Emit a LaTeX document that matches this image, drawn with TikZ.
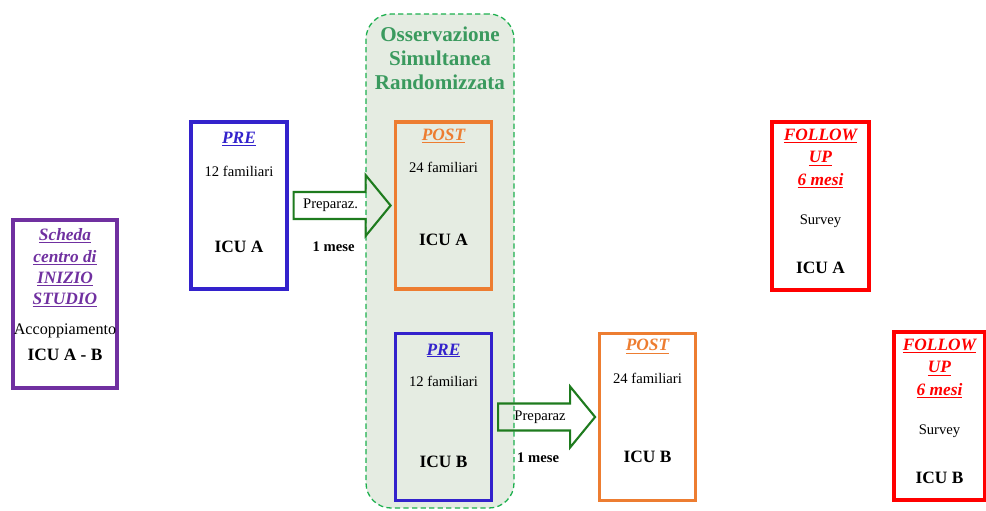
\documentclass[tikz,border=0pt]{standalone}
\usepackage{fontspec}
\setmainfont{Liberation Serif}
\usetikzlibrary{positioning}

\definecolor{schedaviola}{HTML}{7030A0}
\definecolor{preblu}{HTML}{3322CC}
\definecolor{postarancio}{HTML}{ED7D31}
\definecolor{furosso}{HTML}{FF0000}
\definecolor{frecciaverde}{HTML}{1E7B1E}
\definecolor{titoloverde}{HTML}{3A9A5E}
\definecolor{fondoverde}{HTML}{E5ECE2}
\definecolor{bordoverde}{HTML}{1DB04E}

\begin{document}
\begin{tikzpicture}
  [
    x=0.3mm, y=-0.3mm,
    box/.style     = {draw, line width=2.7pt, inner sep=0pt,
                      minimum width=96*0.3mm, minimum height=167*0.3mm},
    regione/.style = {draw=bordoverde, fill=fondoverde, line width=1.1pt,
                      dash pattern=on 4.5pt off 2.8pt, rounded corners=7.5mm,
                      minimum width=148*0.3mm, minimum height=494*0.3mm},
    head/.style    = {font=\fontsize{14.8}{19}\selectfont\bfseries\itshape, align=center},
    small/.style   = {font=\fontsize{12.5}{15}\selectfont},
    icu/.style     = {font=\fontsize{14.8}{17}\selectfont\bfseries},
    prep/.style    = {draw=frecciaverde, line width=1.8pt, line join=miter},
  ]

\useasboundingbox (0,0) rectangle (986,510);

%Green region of the simultaneous observation
\node[regione] (oss) at (440,261) {};
\node[font=\fontsize{18}{20.5}\selectfont\bfseries, text=titoloverde, align=center]
  (oss-t) at (440,58) {Osservazione\\Simultanea\\Randomizzata};

%Scheda box on the left
\node[box, draw=schedaviola, minimum width=104*0.3mm, minimum height=168*0.3mm] (scheda) at (65,304) {};
\node[head, text=schedaviola, font=\fontsize{14.8}{18.2}\selectfont\bfseries\itshape]
  (scheda-hd) at (65,268) {\underline{Scheda}\\\underline{centro di}\\\underline{INIZIO}\\\underline{STUDIO}};
\node[font=\fontsize{13.8}{16}\selectfont] (scheda-acc) at (65,331) {Accoppiamento};
\node[icu] (scheda-icu) at (65,355) {ICU A - B};

%PRE and POST boxes, offsets from the top of each box
\foreach \nm/\x/\y/\colore/\hd/\quanti/\reparto/\dA/\dB/\dC in
  {preA/239/205.5/preblu/PRE/12/A/17/49/125,
   postA/443.5/205.5/postarancio/POST/24/A/14/45/118,
   preB/443.5/417/preblu/PRE/12/B/17/48/128,
   postB/647.5/417/postarancio/POST/24/B/13/45/123}
{
\node[box, draw=\colore] (\nm) at (\x,\y) {};
\node[head, text=\colore] (\nm-hd) at (\x,{\y-83.5+\dA}) {\underline{\hd}};
\node[small] (\nm-fam) at (\x,{\y-83.5+\dB}) {\quanti{} familiari};
\node[icu] (\nm-icu) at (\x,{\y-83.5+\dC}) {ICU \reparto};
}

%Follow up boxes
\foreach \nm/\x/\y/\w/\reparto in {fuA/820.5/206/97/A, fuB/939.5/416/91/B}
{
\node[box, draw=furosso, minimum width=\w*0.3mm, minimum height=168*0.3mm] (\nm) at (\x,\y) {};
\node[head, text=furosso, font=\fontsize{14.8}{19.2}\selectfont\bfseries\itshape]
  (\nm-hd) at (\x,{\y-84+36.5}) {\underline{FOLLOW}\\\underline{UP}\\\underline{6 mesi}};
\node[small] (\nm-sv) at (\x,{\y-84+99}) {Survey};
\node[icu] (\nm-icu) at (\x,{\y-84+146}) {ICU \reparto};
}

%Preparation arrows
\foreach \da in {preA,preB}
{
\coordinate (\da-fr) at ([xshift=1.5mm]\da.east);
\draw[prep] (\da-fr) ++(0,-13.5) -- ++(72,0) -- ++(0,-17) -- ++(25,30.5)
  -- ++(-25,30.5) -- ++(0,-17) -- ++(-72,0) -- cycle;
}
\node[small] (prepA) at ([xshift=37*0.3mm]preA-fr) {Preparaz.};
\node[small, font=\fontsize{12.5}{15}\selectfont\bfseries] (meseA) at ([xshift=40*0.3mm, yshift=-41*0.3mm]preA-fr) {1 mese};
\node[small] (prepB) at ([xshift=42*0.3mm]preB-fr) {Preparaz};
\node[small, font=\fontsize{12.5}{15}\selectfont\bfseries] (meseB) at ([xshift=40*0.3mm, yshift=-41*0.3mm]preB-fr) {1 mese};

%
\end{tikzpicture}
\end{document}
